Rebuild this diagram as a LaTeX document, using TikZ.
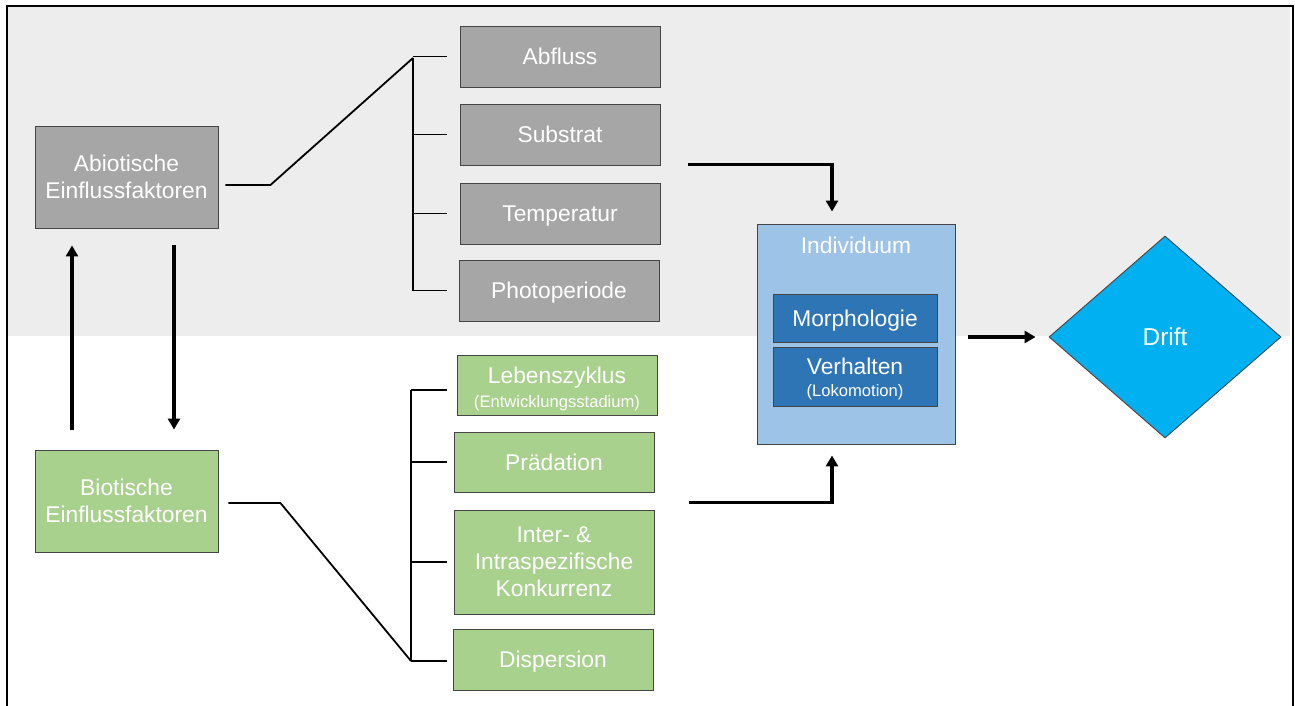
\documentclass[tikz,border=0pt]{standalone}
\usepackage{fontspec}
\setmainfont{Liberation Sans}
\usetikzlibrary{arrows.meta,shapes.geometric}
\definecolor{bandgray}{HTML}{EDEDED}
\definecolor{boxgray}{HTML}{A6A6A6}
\definecolor{boxgreen}{HTML}{A9D18E}
\definecolor{lightblue}{HTML}{9DC3E6}
\definecolor{darkblue}{HTML}{2E75B6}
\definecolor{driftblue}{HTML}{00B0F0}
\definecolor{edgecol}{HTML}{454545}
\tikzset{
  basebox/.style={draw=edgecol, line width=0.9pt, text=white, align=center, inner sep=0pt,
    font=\fontsize{22.8}{27}\selectfont},
  oneline/.style={text height=16.3pt, text depth=0pt},
  graybox/.style={basebox, fill=boxgray},
  greenbox/.style={basebox, fill=boxgreen},
  indivbox/.style={basebox, fill=lightblue},
  innerbox/.style={basebox, fill=darkblue},
  driftnode/.style={basebox, fill=driftblue, diamond, font=\fontsize{24.5}{28}\selectfont},
  boxtext/.style={text=white, align=center, inner sep=0pt, font=\fontsize{22.8}{27}\selectfont},
  thinline/.style={line width=1.8pt, black},
  arrowline/.style={line width=3.4pt, black, -{Triangle[length=11pt,width=12pt]}},
}
\newcommand{\smalltxt}[1]{{\fontsize{16.6}{19}\selectfont #1}}
\begin{document}
\begin{tikzpicture}[x=1pt,y=-1pt]
\useasboundingbox (0,0) rectangle (1295,706);
% background band and frame
\fill[bandgray] (8,7) rectangle (1290,336);
\draw[line width=2pt, black] (7,6) rectangle (1293,730);

% left boxes
\node[graybox, minimum width=183pt, minimum height=102pt] (abio) at (126.5,177) {Abiotische\\Einflussfaktoren};
\node[greenbox, minimum width=183pt, minimum height=102pt] (bio) at (126.5,501) {Biotische\\Einflussfaktoren};

% abiotic factor boxes
\node[graybox, oneline, minimum width=200pt, minimum height=61pt] (abfluss) at (560,56.5) {Abfluss};
\node[graybox, oneline, minimum width=200pt, minimum height=61pt] (substrat) at (560,134.5) {Substrat};
\node[graybox, oneline, minimum width=200pt, minimum height=61pt] (temp) at (560,213.5) {Temperatur};
\node[graybox, oneline, minimum width=200pt, minimum height=61pt] (photo) at (559,290.5) {Photoperiode};

% biotic factor boxes
\node[greenbox, minimum width=200pt, minimum height=60pt] (leben) at (557,385) {};
\node[boxtext] (lebentxt) at ([yshift=-4pt]leben.center) {Lebenszyklus\\[-3pt]\smalltxt{(Entwicklungsstadium)}};
\node[greenbox, oneline, minimum width=200pt, minimum height=60pt] (praed) at (554,462) {Prädation};
\node[greenbox, minimum width=200pt, minimum height=104pt] (konk) at (554,562) {Inter- \&\\Intraspezifische\\Konkurrenz};
\node[greenbox, oneline, minimum width=200pt, minimum height=61pt] (disp) at (553,659.5) {Dispersion};

% individuum
\node[indivbox, minimum width=198pt, minimum height=220pt] (indiv) at (856,334) {};
\node[boxtext, oneline] (indivtitle) at (856,245) {Individuum};
\node[innerbox, oneline, minimum width=164pt, minimum height=48pt] (morph) at (855,318) {Morphologie};
\node[innerbox, minimum width=164pt, minimum height=59pt] (verh) at (855,376.5) {};
\node[boxtext] (verhtxt) at ([yshift=-2.5pt]verh.center) {Verhalten\\[-5pt]\smalltxt{(Lokomotion)}};

% drift
\node[driftnode, minimum width=232pt, minimum height=202pt] (drift) at (1165,337) {Drift};

% brackets abiotic
\coordinate (sa) at (413,58);
\coordinate (sae) at (413,291);
\coordinate (tickA) at (447,0);
\draw[thinline] (sa) -- (sae);
\foreach \n in {abfluss,substrat,temp,photo}
  \draw[thinline] (sa |- \n.west) -- (tickA |- \n.west);
\draw[thinline] ([shift={(7pt,-8pt)}]abio.east) -- ++(45,0) -- (sa);

% brackets biotic
\coordinate (sb) at (411,390);
\coordinate (sbe) at (411,661);
\coordinate (tickB) at (447,0);
\draw[thinline] (sb) -- (sbe);
\draw[thinline] (sb) -- (tickB |- sb);
\foreach \n in {praed,konk}
  \draw[thinline] (sb |- \n.west) -- (tickB |- \n.west);
\draw[thinline] (sbe) -- (tickB |- sbe);
\draw[thinline] ([shift={(10pt,-2pt)}]bio.east) -- ++(52,0) -- (sbe);

% vertical arrows between abiotic and biotic
\draw[arrowline] ([shift={(-54.5pt,20pt)}]bio.north) -- ([shift={(-54.5pt,-17pt)}]abio.south);
\draw[arrowline] ([shift={(47.5pt,-17pt)}]abio.south) -- ([shift={(47.5pt,20pt)}]bio.north);

% arrows to individuum
\draw[arrowline] ([shift={(28pt,1pt)}]substrat.south east) -| ([shift={(-24pt,12pt)}]indiv.north);
\draw[arrowline] ([shift={(35pt,-10pt)}]praed.south east) -| ([shift={(-24pt,-11pt)}]indiv.south);

% arrow to drift
\draw[arrowline] ([xshift=13pt]indiv.east |- drift.west) -- ([xshift=-13pt]drift.west);
\end{tikzpicture}
\end{document}
